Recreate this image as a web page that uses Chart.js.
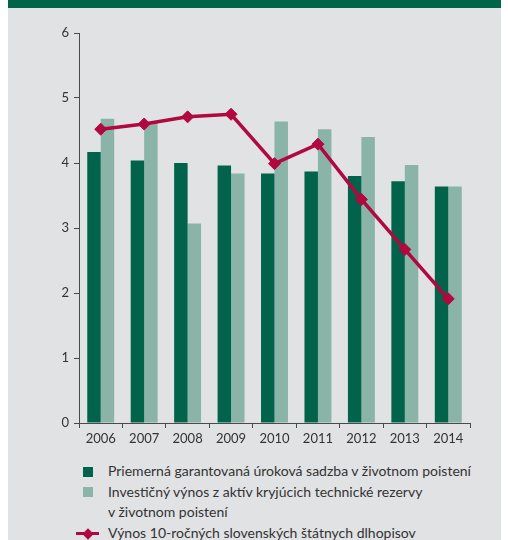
<!DOCTYPE html>
<html>
<head>
<meta charset="utf-8">
<script src="https://cdn.jsdelivr.net/npm/chart.js@4/dist/chart.umd.min.js"></script>
<style>
  html, body { margin: 0; padding: 0; background: #ffffff; width: 508px; height: 540px; overflow: hidden; }
  #header { position: absolute; left: 8px; top: 0; width: 493px; height: 8px; background: #006449; }
  #panel { position: absolute; left: 8px; top: 8px; width: 493px; height: 532px; background: #e1e2e4; }
  #chart { position: absolute; left: 0; top: 0; }
  #legend { position: absolute; left: 0; top: 461px; font-family: Lato, "Open Sans", sans-serif; font-size: 14px; line-height: 20.7px; color: #333333; }
  .row { position: relative; height: 20.7px; padding-left: 108px; white-space: nowrap; }
  .sq { position: absolute; left: 83px; top: 5.5px; width: 10px; height: 10px; }
  .ln { position: absolute; left: 76px; top: 9px; width: 23px; height: 3px; }
  .dm { position: absolute; left: 83.5px; top: 6.5px; width: 8px; height: 8px; transform: rotate(45deg); }
</style>
</head>
<body>
<div id="header"></div>
<div id="panel"></div>
<canvas id="chart" width="508" height="455"></canvas>
<div id="legend"></div>
<script>
// Years on the horizontal axis
const years = ['2006', '2007', '2008', '2009', '2010', '2011', '2012', '2013', '2014'];

// Average guaranteed interest rate in life insurance (%)
const guaranteedRate = [4.17, 4.04, 4.00, 3.96, 3.84, 3.87, 3.80, 3.72, 3.64];

// Investment return of assets covering life-insurance technical reserves (%)
const investmentReturn = [4.68, 4.62, 3.07, 3.84, 4.64, 4.52, 4.40, 3.97, 3.64];

// 10-year Slovak government bond yield (%)
const bondYield = [4.52, 4.60, 4.71, 4.75, 3.99, 4.29, 3.44, 2.67, 1.91];

const yTicks = [0, 1, 2, 3, 4, 5, 6];

const seriesNames = [
  'Priemerná garantovaná úroková sadzba v životnom poistení',
  'Investičný výnos z aktív kryjúcich technické rezervy\nv životnom poistení',
  'Výnos 10-ročných slovenských štátnych dlhopisov'
];

const colDark = '#00634a';
const colLight = '#8ab4a7';
const colLine = '#b0083f';
const axisCol = '#4a4a4a';
const textCol = '#333333';

const tickFont = { family: 'Lato, "Open Sans", sans-serif', size: 13 };

new Chart(document.getElementById('chart'), {
  data: {
    labels: years,
    datasets: [
      {
        type: 'line',
        label: seriesNames[2],
        data: bondYield,
        borderColor: colLine,
        backgroundColor: colLine,
        borderWidth: 3.5,
        pointStyle: 'rectRot',
        pointRadius: 6,
        pointBorderWidth: 1,
        pointBackgroundColor: colLine,
        pointBorderColor: colLine,
        tension: 0,
        order: 0
      },
      {
        type: 'bar',
        label: seriesNames[0],
        data: guaranteedRate,
        backgroundColor: colDark,
        categoryPercentage: 0.62,
        barPercentage: 1.0,
        order: 1
      },
      {
        type: 'bar',
        label: seriesNames[1],
        data: investmentReturn,
        backgroundColor: colLight,
        categoryPercentage: 0.62,
        barPercentage: 1.0,
        order: 1
      }
    ]
  },
  options: {
    responsive: false,
    animation: false,
    devicePixelRatio: 1,
    layout: { padding: { top: 33, right: 38, left: 0, bottom: 0 } },
    plugins: {
      legend: { display: false },
      tooltip: { enabled: false },
      title: { display: false }
    },
    scales: {
      x: {
        offset: true,
        grid: { offset: true, drawOnChartArea: false, drawTicks: true, tickLength: 5, color: axisCol, lineWidth: 1 },
        border: { display: true, color: axisCol, width: 1 },
        ticks: { color: textCol, font: tickFont, padding: 3, maxRotation: 0 },
        afterFit: s => { s.height = 32; }
      },
      y: {
        min: 0,
        max: 6,
        afterBuildTicks: s => { s.ticks = yTicks.map(v => ({ value: v })); },
        grid: { drawOnChartArea: false, drawTicks: true, tickLength: 5, color: axisCol, lineWidth: 1 },
        border: { display: true, color: axisCol, width: 1 },
        ticks: { color: textCol, font: tickFont, padding: 5 },
        afterFit: s => { s.width = 79; }
      }
    }
  }
});

// Legend below the plot
const legend = document.getElementById('legend');
function addRow(text, marker) {
  const row = document.createElement('div');
  row.className = 'row';
  if (marker === 'dark' || marker === 'light') {
    const sq = document.createElement('div');
    sq.className = 'sq';
    sq.style.background = marker === 'dark' ? colDark : colLight;
    row.appendChild(sq);
  } else if (marker === 'line') {
    const ln = document.createElement('div');
    ln.className = 'ln';
    ln.style.background = colLine;
    const dm = document.createElement('div');
    dm.className = 'dm';
    dm.style.background = colLine;
    row.appendChild(ln);
    row.appendChild(dm);
  }
  row.appendChild(document.createTextNode(text));
  legend.appendChild(row);
}
addRow(seriesNames[0], 'dark');
const parts = seriesNames[1].split('\n');
addRow(parts[0], 'light');
addRow(parts[1], null);
addRow(seriesNames[2], 'line');
</script>
</body>
</html>
